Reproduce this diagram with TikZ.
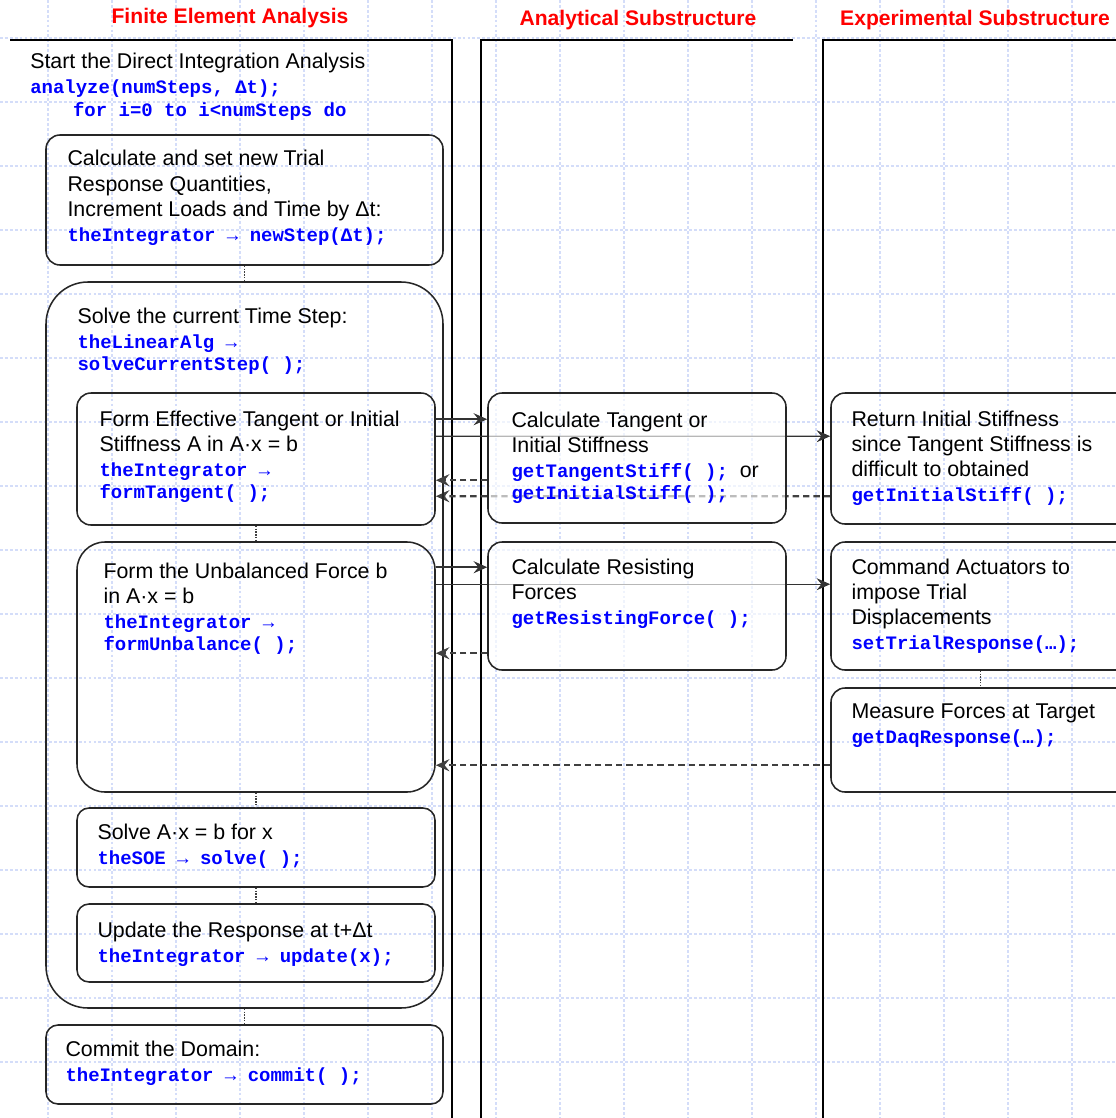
\documentclass[tikz,border=0pt]{standalone}
\usepackage{fontspec}
\setmainfont{Liberation Sans}
\newfontfamily\codefont{Liberation Mono}
\usetikzlibrary{arrows.meta,positioning,fit,calc}
\definecolor{feaRed}{RGB}{255,0,0}
\definecolor{feaBlue}{RGB}{0,0,255}
\definecolor{feaGrid}{RGB}{212,221,249}
\newcommand{\fcode}[1]{{\codefont\bfseries\fontsize{13.5}{15.6}\selectfont\color{feaBlue}#1}}
\pgfdeclarelayer{background}
\pgfsetlayers{background,main}

\begin{document}
\begin{tikzpicture}[
  x=0.025cm, y=-0.025cm,
  stepbox/.style={
    draw=black!85,
    line width=1.1pt,
    inner sep=0pt,
    rounded corners=0.35cm
  },
  steptext/.style={
    anchor=north west,
    inner sep=0pt,
    align=left,
    font=\fontsize{15.2}{17.8}\selectfont
  },
  lanetitle/.style={font=\fontsize{15}{18}\selectfont\bfseries,text=feaRed},
  lane/.style={line width=1.6pt},
  flow/.style={-{Stealth[length=0.34cm,width=0.3cm,inset=0.12cm]},line width=1.3pt,black!80},
  backflow/.style={-{Stealth[length=0.34cm,width=0.3cm,inset=0.12cm]},line width=1.7pt,black!75,dash pattern=on 0.16cm off 0.1cm},
  link/.style={line width=1.3pt,black!75,dash pattern=on 1pt off 1pt},
  gridline/.style={feaGrid,line width=0.9pt,dash pattern=on 2pt off 1.5pt}
]
  \useasboundingbox (0,0) rectangle (1116,1118);
  \clip (0,0) rectangle (1116,1118);

  % grid and swim lanes
  \begin{pgfonlayer}{background}
    \foreach \gx in {48,112,...,1072}
      \draw[gridline] (\gx,0) -- (\gx,1118);
    \foreach \gy in {38,102,...,1062}
      \draw[gridline] (0,\gy) -- (1116,\gy);
    \draw[lane] (10,40) -- (452,40) -- (452,1118);
    \draw[lane] (481,1118) -- (481,40) -- (793,40);
    \draw[lane] (823,1118) -- (823,40) -- (1116,40);
  \end{pgfonlayer}

  \node[lanetitle] (fea-title) at (230,18) {Finite Element Analysis};
  \node[lanetitle] (ana-title) at (638,20) {Analytical Substructure};
  \node[lanetitle] (exp-title) at (975,20) {Experimental Substructure};

  \node[steptext] (start) at (30,53) {Start the Direct Integration Analysis\\
    \fcode{analyze(numSteps, Δt);}\\[-0.05cm]
    \hspace*{1.07cm}\fcode{for i=0 to i<numSteps do}};

  % finite element side
  \node[stepbox,fit={(46,135) (443,265)}] (newstep) {};
  \node[steptext] (newstep-txt) at ([shift={(22,16)}]newstep.north west) {Calculate and set new Trial\\
    Response Quantities,\\Increment Loads and Time by Δt:\\\fcode{theIntegrator → newStep(Δt);}};

  \node[stepbox,rounded corners=1.05cm,fit={(46,282) (443,1008)}] (solvestep) {};
  \node[steptext] (solvestep-txt) at ([shift={(32,26)}]solvestep.north west) {Solve the current Time Step:\\
    \fcode{theLinearAlg →}\\[-0.07cm]\fcode{solveCurrentStep( );}};

  \node[stepbox,fit={(77,393) (435,525)}] (formtangent) {};
  \node[steptext] (formtangent-txt) at ([shift={(23,18)}]formtangent.north west) {Form Effective Tangent or Initial\\
    Stiffness A in A·x = b\\\fcode{theIntegrator →}\\[-0.07cm]\fcode{formTangent( );}};

  \node[stepbox,rounded corners=0.7cm,fit={(77,542) (435,792)}] (formunbal) {};
  \node[steptext] (formunbal-txt) at ([shift={(27,21)}]formunbal.north west) {Form the Unbalanced Force b\\
    in A·x = b\\\fcode{theIntegrator →}\\[-0.07cm]\fcode{formUnbalance( );}};

  \node[stepbox,rounded corners=0.3cm,fit={(77,808) (435,887)}] (solvesoe) {};
  \node[steptext] (solvesoe-txt) at ([shift={(21,16)}]solvesoe.north west) {Solve A·x = b for x\\
    \fcode{theSOE → solve( );}};

  \node[stepbox,rounded corners=0.3cm,fit={(77,904) (435,982)}] (update) {};
  \node[steptext] (update-txt) at ([shift={(21,18)}]update.north west) {Update the Response at t+Δt\\
    \fcode{theIntegrator → update(x);}};

  \node[stepbox,rounded corners=0.3cm,fit={(46,1025) (443,1104)}] (commit) {};
  \node[steptext] (commit-txt) at ([shift={(20,16)}]commit.north west) {Commit the Domain:\\
    \fcode{theIntegrator → commit( );}};

  % analytical substructure
  \node[stepbox,fill=white,fill opacity=0.65,fit={(488,393) (786,523)}] (calctangent) {};
  \node[steptext] (calctangent-txt) at ([shift={(24,19)}]calctangent.north west) {Calculate Tangent or\\
    Initial Stiffness\\\fcode{getTangentStiff( );}\ \ or\\[-0.07cm]\fcode{getInitialStiff( );}};

  \node[stepbox,fill=white,fill opacity=0.65,fit={(488,542) (786,670)}] (calcforce) {};
  \node[steptext] (calcforce-txt) at ([shift={(24,17)}]calcforce.north west) {Calculate Resisting\\
    Forces\\\fcode{getResistingForce( );}};

  % experimental substructure
  \node[stepbox,fit={(831,393) (1130,524)}] (initstiff) {};
  \node[steptext] (initstiff-txt) at ([shift={(21,18)}]initstiff.north west) {Return Initial Stiffness\\
    since Tangent Stiffness is\\difficult to obtained\\\fcode{getInitialStiff( );}};

  \node[stepbox,fit={(831,542) (1130,670)}] (actuators) {};
  \node[steptext] (actuators-txt) at ([shift={(21,17)}]actuators.north west) {Command Actuators to\\
    impose Trial\\Displacements\\\fcode{setTrialResponse(…);}};

  \node[stepbox,fit={(831,688) (1130,792)}] (measure) {};
  \node[steptext] (measure-txt) at ([shift={(21,16)}]measure.north west) {Measure Forces at Target\\
    \fcode{getDaqResponse(…);}};

  % sequence links
  \draw[link] (newstep.south) -- (solvestep.north);
  \draw[link] (formtangent.south) -- (formunbal.north);
  \draw[link] (formunbal.south) -- (solvesoe.north);
  \draw[link] (solvesoe.south) -- (update.north);
  \draw[link] (solvestep.south) -- (commit.north);
  \draw[link] (actuators.south) -- (measure.north);

  % calls and returns
  \draw[flow] ($(formtangent.north east)+(0,27)$) -- ($(calctangent.north west)+(0,27)$);
  \draw[backflow] ($(calctangent.north west)+(0,88)$) -- ($(formtangent.north east)+(0,88)$);
  \draw[flow] ($(formunbal.north east)+(0,26)$) -- ($(calcforce.north west)+(0,26)$);
  \draw[backflow] ($(calcforce.north west)+(0,112)$) -- ($(formunbal.north east)+(0,112)$);
  \draw[backflow] ($(measure.north west)+(0,78)$) -- ($(formunbal.north east)+(0,224)$);
  \begin{pgfonlayer}{background}
    \draw[flow,line width=0.8pt] ($(formtangent.north east)+(0,44)$) -- ($(initstiff.north west)+(0,44)$);
    \draw[backflow] ($(initstiff.north west)+(0,104)$) -- ($(formtangent.north east)+(0,104)$);
    \draw[flow,line width=0.8pt] ($(formunbal.north east)+(0,43)$) -- ($(actuators.north west)+(0,43)$);
  \end{pgfonlayer}
\end{tikzpicture}
\end{document}
